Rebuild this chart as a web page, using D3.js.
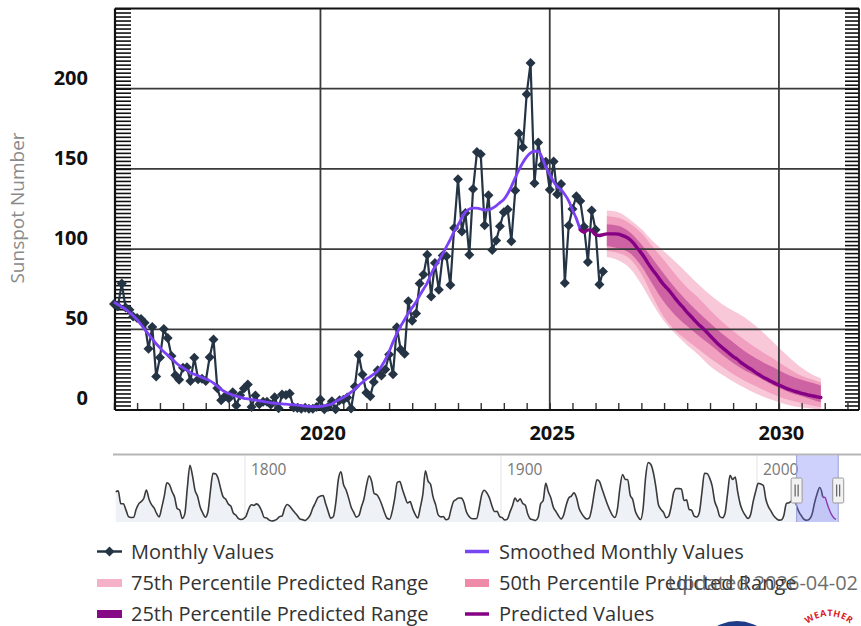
<!DOCTYPE html>
<html><head><meta charset="utf-8">
<script src="https://cdn.jsdelivr.net/npm/d3@7"></script>
<style>body{margin:0;background:#fff}svg{display:block;font-family:"Open Sans",sans-serif}</style>
</head><body>
<script>
// ---------------- DATA ----------------
const monthlyStart = "2015-07";
const monthlyValues = [65.8,64.4,78.6,63.6,62.2,58.0,
 57.0,56.4,54.1,37.9,51.5,20.5,32.4,50.2,44.6,33.4,21.4,18.5,
 26.1,26.4,17.7,32.3,18.9,19.2,17.8,32.6,43.7,13.2,5.7,8.2,
 6.8,10.7,2.5,8.9,13.1,15.6,1.6,8.7,3.3,4.9,4.9,3.1,
 7.7,0.8,9.4,9.1,9.9,1.2,0.9,0.5,1.1,0.4,0.5,1.5,
 6.2,0.2,1.5,5.2,0.2,5.8,6.1,7.5,0.6,14.4,34.0,21.8,
 10.4,8.2,17.2,24.5,21.2,25.0,34.3,22.0,51.3,37.4,34.8,67.5,
 55.3,59.9,78.5,84.1,96.5,70.5,91.4,74.6,96.0,95.5,77.6,113.1,
 143.6,110.9,122.5,96.4,137.4,160.5,159.1,114.8,133.6,99.4,105.4,114.2,
 123.0,124.7,104.9,136.5,172.1,163.5,196.6,216.0,141.1,166.4,152.5,154.5,
 137.0,154.6,134.2,140.6,78.8,114.7,125.0,133.0,130.0,114.0,92.0,124.0,
 112.0,78.0,86.0];

const smoothedStart = "2015-07";
const smoothedValues = [67,65.5,64,62.5,60.5,58.5,
 56,53,50,47,44,41,38.5,36,34,32,29.5,27.5,
 26,24.5,23,22,21,20,19,18,16.5,14.5,12.5,11,
 10,9,8.3,7.7,7,6.6,6.2,5.8,5.4,5,4.6,4.2,
 3.9,3.7,3.5,3.3,3.1,2.9,2.7,2.4,2.1,1.9,1.8,1.8,
 2,2.3,2.8,3.4,5,6.2,7.5,9,10.8,12.8,15,17,
 19,20.5,22,24,27,31,36,42,47.5,52,56,60,
 63.5,67,71,75,79,84.5,89,93,97,101.5,106,111,
 115,119.5,123,125,125.5,125.5,125,124.5,124.5,125.5,127,129,
 131,134.5,139,144.5,149.5,154,157.5,160,161,161,157,151,
 146.5,142,139,137,134,130,124.5,119,112];

const predictedStart = "2025-09";
const predictedValues = [112,110.5,112,111.5,
 109,108.5,109,109.5,109.5,109.5,109.3,108.5,107.5,106,103.5,100.5,
 97.5,94,90.5,87,84,80.5,77.5,75,72,69,66,63.5,
 60.5,58,55.5,53,51,48.5,46,43.5,41,39,37,35,
 33,31.5,29.5,27.8,26.2,24.7,23,21.5,20,18.8,17.5,16.3,
 15.2,14.2,13.2,12.3,11.5,10.8,10.1,9.5,8.9,8.4,7.9,7.5];

const bandMonths = ["2026-04","2026-07","2026-10","2027-01","2027-04","2027-07","2027-10",
 "2028-01","2028-04","2028-07","2028-10","2029-01","2029-04","2029-07","2029-10",
 "2030-01","2030-04","2030-07","2030-10","2030-12"];
const p75High = [124,123,118.5,112.5,105,98.5,92,85,78,71.5,66,61.5,57.5,52,45.5,38.5,32,26,21.5,19.5];
const p75Low  = [95,93,88,78,66,55,47,40,34,27,22,17.5,13.5,10,7,4.5,2.5,1.2,0.5,0];
const p50High = [120.5,119.5,116,110,101.5,93,84,76,69.5,62,55,49,43.5,38.5,34,29.5,25,21,18.5,17];
const p50Low  = [99,97.5,94,84.5,70.5,57.5,49,43,37.5,32,27,22,18,14.5,11,8,5.8,4,2.3,1.4];
const p25High = [115.5,114.5,110.5,103,94,84.5,75.5,67.5,60.5,54,47.5,42,36.5,32,28,24.5,21,18.5,16.5,15];
const p25Low  = [102,100.5,97.5,89.5,78,67,58.5,52,46,40.5,34.5,29,24.5,21,17,13.5,10.5,8.3,6,4.5];

const navStartYear = 1749;
const navYearly = [134.7,
 139.0,79.5,79.7,51.2,20.3,16.0,17.0,54.0,79.3,90.0,
 104.8,143.2,102.0,75.2,60.7,34.8,19.0,63.0,116.3,176.8,
 168.0,136.0,110.8,58.0,51.0,11.7,33.0,154.2,257.3,209.8,
 141.3,113.5,64.2,38.0,17.0,40.2,138.2,220.0,218.2,196.8,
 149.8,111.0,100.0,78.2,68.3,35.5,26.7,10.7,6.8,11.3,
 24.2,56.7,75.0,71.8,79.2,70.3,46.8,16.8,13.5,4.2,
 0.0,2.3,8.3,20.3,23.2,59.0,76.3,68.3,52.9,38.5,
 24.2,9.2,6.3,2.2,11.4,28.2,59.9,83.0,108.5,115.2,
 117.4,80.8,44.3,13.4,19.5,85.8,192.7,227.3,168.7,143.0,
 105.5,63.3,40.3,18.1,25.1,65.8,102.7,166.3,208.3,182.5,
 126.3,122.0,102.7,74.1,39.0,12.7,8.2,43.4,104.4,178.3,
 182.2,146.6,112.1,83.5,89.2,57.8,30.7,13.9,62.8,123.6,
 232.0,185.3,169.2,110.1,74.5,28.3,18.9,20.7,5.7,10.0,
 53.7,90.5,99.0,106.1,105.8,86.3,42.4,21.8,11.2,10.4,
 11.8,59.5,121.7,142.0,130.0,106.6,69.4,43.8,44.4,20.2,
 15.7,4.6,8.5,40.8,70.1,105.5,90.1,102.8,80.9,73.2,
 30.9,9.5,6.0,2.4,16.1,79.0,95.0,173.6,134.6,105.7,
 62.7,43.5,23.7,9.7,27.9,74.0,106.5,114.7,129.7,108.2,
 59.4,35.1,18.6,9.2,14.6,60.2,132.8,190.6,182.6,148.0,
 113.0,79.2,50.8,27.1,16.1,55.3,154.3,214.7,193.0,190.7,
 118.9,98.3,45.0,20.1,6.6,54.2,200.7,269.3,261.7,225.1,
 159.0,76.4,53.4,39.9,15.0,22.0,66.8,132.9,150.0,149.4,
 148.0,94.4,97.6,54.1,49.2,22.5,18.4,39.3,131.0,220.1,
 218.9,198.9,162.4,91.0,60.5,20.6,14.8,33.9,123.0,211.1,
 191.8,203.3,133.0,76.1,44.9,25.1,11.6,28.9,88.3,136.3,
 173.9,170.4,163.6,99.3,65.3,45.8,24.7,12.6,4.2,4.8,
 24.9,80.8,84.5,94.0,113.3,69.8,39.8,21.7,7.0,3.6,
 8.8,29.6,83.2,125.5,154.7,123];

const yTickValues = [0,50,100,150,200];
const xTickYears = [2020,2025,2030];
const navTickYears = [1800,1900,2000];
const legendLabels = ["Monthly Values","Smoothed Monthly Values","75th Percentile Predicted Range",
 "50th Percentile Predicted Range","25th Percentile Predicted Range","Predicted Values"];
const yAxisTitle = "Sunspot Number";
const updatedText = "Updated 2026-04-02";

// ---------------- HELPERS ----------------
const parseMonth = d3.utcParse("%Y-%m");
const monthSeq = (start, n) => { const d0 = parseMonth(start); return d3.range(n).map(i => d3.utcMonth.offset(d0, i)); };
const decYear = d => { const y = d.getUTCFullYear(); const a = Date.UTC(y,0,1), b = Date.UTC(y+1,0,1); return y + (d - a)/(b - a); };

const monthly = monthSeq(monthlyStart, monthlyValues.length).map((d,i)=>({d, v:monthlyValues[i]}));
const smoothed = monthSeq(smoothedStart, smoothedValues.length).map((d,i)=>({d, v:smoothedValues[i]}));
const predicted = monthSeq(predictedStart, predictedValues.length).map((d,i)=>({d, v:predictedValues[i]}));
const bands = bandMonths.map((m,i)=>({d:parseMonth(m), h75:p75High[i], l75:p75Low[i], h50:p50High[i], l50:p50Low[i], h25:p25High[i], l25:p25Low[i]}));

const W = 861, H = 626;
const svg = d3.select("body").append("svg").attr("width", W).attr("height", H);

const x = d3.scaleUtc().domain([Date.UTC(2015,6,1), Date.UTC(2031,9,1)]).range([114, 859]);
const y = d3.scaleLinear().domain([0,250]).range([409.5, 8.5]);
const L = 115, R = 859, T = 8.5, B = 410;

// bands
const bandG = svg.append("g");
const bandDefs = [["h75","l75","#f8c8d8"],["h50","l50","#f2a0c0"],["h25","l25","#cd63a3"]];
bandDefs.forEach(([hk,lk,col])=>{
  bandG.append("path").datum(bands)
    .attr("d", d3.area().x(d=>x(d.d)).y0(d=>y(d[lk])).y1(d=>y(d[hk])).curve(d3.curveMonotoneX))
    .attr("fill", col);
});

// grid
const grid = svg.append("g").attr("stroke","#3a3a3a").attr("stroke-width",1.8);
yTickValues.filter(v=>v>0).forEach(v=>grid.append("line").attr("x1",L).attr("x2",R).attr("y1",y(v)).attr("y2",y(v)));
xTickYears.forEach(yr=>grid.append("line").attr("x1",x(Date.UTC(yr,0,1))).attr("x2",x(Date.UTC(yr,0,1))).attr("y1",T).attr("y2",B));

// minor ticks
const minorY = d3.range(0, 250.01, 2.5);
svg.append("g").attr("transform",`translate(${L},0)`)
  .call(d3.axisRight(y).tickValues(minorY).tickSize(16).tickFormat("").tickSizeOuter(0))
  .call(g=>{g.select(".domain").remove(); g.selectAll("line").attr("stroke","#111").attr("stroke-width",1.6);});
svg.append("g").attr("transform",`translate(${R},0)`)
  .call(d3.axisLeft(y).tickValues(minorY).tickSize(14).tickFormat("").tickSizeOuter(0))
  .call(g=>{g.select(".domain").remove(); g.selectAll("line").attr("stroke","#111").attr("stroke-width",1.6);});
svg.append("g").attr("transform",`translate(0,${B})`)
  .call(d3.axisTop(x).ticks(d3.utcMonth.every(6)).tickSize(7).tickFormat("").tickSizeOuter(0))
  .call(g=>{g.select(".domain").remove(); g.selectAll("line").attr("stroke","#333").attr("stroke-width",1.4);});

// frame
const frame = svg.append("g").attr("stroke","#111").attr("fill","none");
frame.append("line").attr("x1",L).attr("x2",L).attr("y1",T).attr("y2",B).attr("stroke-width",2.2);
frame.append("line").attr("x1",L).attr("x2",R).attr("y1",B).attr("y2",B).attr("stroke-width",2);
frame.append("line").attr("x1",L).attr("x2",R).attr("y1",T).attr("y2",T).attr("stroke-width",1.8);
frame.append("line").attr("x1",R).attr("x2",R).attr("y1",T).attr("y2",B).attr("stroke-width",1.8);

// axis labels
svg.append("g").attr("transform",`translate(${L},0)`)
  .call(d3.axisLeft(y).tickValues(yTickValues).tickSize(0).tickPadding(27))
  .call(g=>{g.select(".domain").remove(); g.selectAll("text").attr("y",-11).attr("font-size",20).attr("font-weight",700).attr("fill","#111").attr("font-family","Open Sans");});
svg.append("g").attr("transform",`translate(0,${B})`)
  .call(d3.axisBottom(x).tickValues(xTickYears.map(yr=>new Date(Date.UTC(yr,0,1)))).tickFormat(d3.utcFormat("%Y")).tickSize(0).tickPadding(16))
  .call(g=>{g.select(".domain").remove(); g.selectAll("text").attr("dx",2).attr("font-size",20).attr("font-weight",700).attr("fill","#111").attr("font-family","Open Sans");});
svg.append("text").attr("transform","translate(24,208) rotate(-90)").attr("text-anchor","middle")
  .attr("font-size",19).attr("fill","#8a8a8a").text(yAxisTitle);

// monthly series
const lineM = d3.line().x(d=>x(d.d)).y(d=>y(d.v));
svg.append("path").datum(monthly).attr("d",lineM).attr("fill","none").attr("stroke","#253445").attr("stroke-width",2.2).attr("stroke-linejoin","round");
const diamond = "M0,-5L5,0L0,5L-5,0Z";
svg.append("g").selectAll("path").data(monthly).join("path")
  .attr("d",diamond).attr("transform",d=>`translate(${x(d.d)},${y(d.v)})`).attr("fill","#253445");

// smoothed
svg.append("path").datum(smoothed).attr("d",lineM.curve(d3.curveMonotoneX)).attr("fill","none").attr("stroke","#7b42f5").attr("stroke-width",2.8);
// predicted
svg.append("path").datum(predicted).attr("d",d3.line().x(d=>x(d.d)).y(d=>y(d.v)).curve(d3.curveMonotoneX)).attr("fill","none").attr("stroke","#850085").attr("stroke-width",3.4).attr("stroke-linecap","round");

// ---------------- NAVIGATOR ----------------
const nx = d3.scaleLinear().domain([1749, 2031]).range([114.4, 836.3]);
const ny = d3.scaleLinear().domain([0,300]).range([521, 456]);
const navHist = navYearly.map((v,i)=>({t:navStartYear+i+0.5, v}));
const navPred = predicted.map(p=>({t:decYear(p.d), v:p.v}));
const navAll = navHist.concat(navPred);
const ng = svg.append("g");
navTickYears.forEach(yr=>{
  ng.append("line").attr("x1",nx(yr)).attr("x2",nx(yr)).attr("y1",455).attr("y2",522).attr("stroke","#e2e2e2").attr("stroke-width",1);
  ng.append("text").attr("x",nx(yr)+6).attr("y",475).attr("font-size",15.5).attr("fill","#777").text(yr);
});
ng.append("path").datum(navAll).attr("d",d3.area().x(d=>nx(d.t)).y0(ny(0)+1).y1(d=>ny(d.v)).curve(d3.curveMonotoneX)).attr("fill","#eef1f6");
ng.append("path").datum(navHist.concat([navPred[0]])).attr("d",d3.line().x(d=>nx(d.t)).y(d=>ny(d.v)).curve(d3.curveMonotoneX)).attr("fill","none").attr("stroke","#3a3a3a").attr("stroke-width",1.6);
ng.append("path").datum(navPred).attr("d",d3.line().x(d=>nx(d.t)).y(d=>ny(d.v)).curve(d3.curveMonotoneX)).attr("fill","none").attr("stroke","#9a1a9a").attr("stroke-width",1.4);
// top outline
ng.append("line").attr("x1",113).attr("x2",861).attr("y1",454.5).attr("y2",454.5).attr("stroke","#b5b5b5").attr("stroke-width",2);
// mask
const m0 = nx(decYear(x.domain()[0])), m1 = nx(decYear(x.domain()[1]));
ng.append("rect").attr("x",m0).attr("y",455.5).attr("width",m1-m0).attr("height",66.5).attr("fill","rgba(105,115,245,0.33)");
ng.append("line").attr("x1",m0).attr("x2",m0).attr("y1",455).attr("y2",522).attr("stroke","#9aa0d8").attr("stroke-width",1);
ng.append("line").attr("x1",m1).attr("x2",m1).attr("y1",455).attr("y2",522).attr("stroke","#9aa0d8").attr("stroke-width",1);
[m0,m1].forEach(mx=>{
  const h = ng.append("g").attr("transform",`translate(${mx},490.5)`);
  h.append("rect").attr("x",-5.5).attr("y",-12.5).attr("width",11).attr("height",25).attr("rx",1.5).attr("fill","#f2f2f2").attr("stroke","#999").attr("stroke-width",1);
  h.append("line").attr("x1",-1.5).attr("x2",-1.5).attr("y1",-6).attr("y2",6).attr("stroke","#444");
  h.append("line").attr("x1",1.5).attr("x2",1.5).attr("y1",-6).attr("y2",6).attr("stroke","#444");
});

// ---------------- LEGEND ----------------
const legend = svg.append("g").attr("font-size",20).attr("fill","#333");
const legPos = [[97,551.5],[465,551.5],[97,583],[465,583],[97,614],[465,614]];
const legSym = [
  g=>{g.append("line").attr("x1",0).attr("x2",25).attr("stroke","#253445").attr("stroke-width",2.5); g.append("path").attr("d",diamond).attr("transform","translate(12.5,0)").attr("fill","#253445");},
  g=>g.append("line").attr("x1",0).attr("x2",24).attr("stroke","#7546f2").attr("stroke-width",3.5),
  g=>g.append("rect").attr("x",0).attr("y",-4).attr("width",25).attr("height",8).attr("fill","#f4b1c7"),
  g=>g.append("rect").attr("x",0).attr("y",-4).attr("width",24).attr("height",8).attr("fill","#f08aa9"),
  g=>g.append("rect").attr("x",0).attr("y",-4).attr("width",25).attr("height",8).attr("fill","#860a86"),
  g=>g.append("line").attr("x1",0).attr("x2",24).attr("stroke","#850085").attr("stroke-width",3.5)
];
legendLabels.forEach((lab,i)=>{
  const g = legend.append("g").attr("transform",`translate(${legPos[i][0]},${legPos[i][1]})`);
  legSym[i](g);
  g.append("text").attr("x",34).attr("dy","0.35em").text(lab);
});
svg.append("text").attr("x",858).attr("y",583).attr("dy","0.35em").attr("text-anchor","end")
  .attr("font-size",20).attr("fill","#555").attr("opacity",0.85).text(updatedText);

// logos (partial, bottom right)
svg.append("circle").attr("cx",737).attr("cy",663).attr("r",42).attr("fill","#1f3c88");
svg.append("defs").append("path").attr("id","arc").attr("d","M796,642 A34,34 0 0 1 862,642");
svg.append("text").attr("font-size",9).attr("font-weight",700).attr("fill","#d8202a").attr("letter-spacing",0.5)
  .append("textPath").attr("href","#arc").attr("startOffset","50%").attr("text-anchor","middle").text("WEATHER");
</script>
</body></html>
